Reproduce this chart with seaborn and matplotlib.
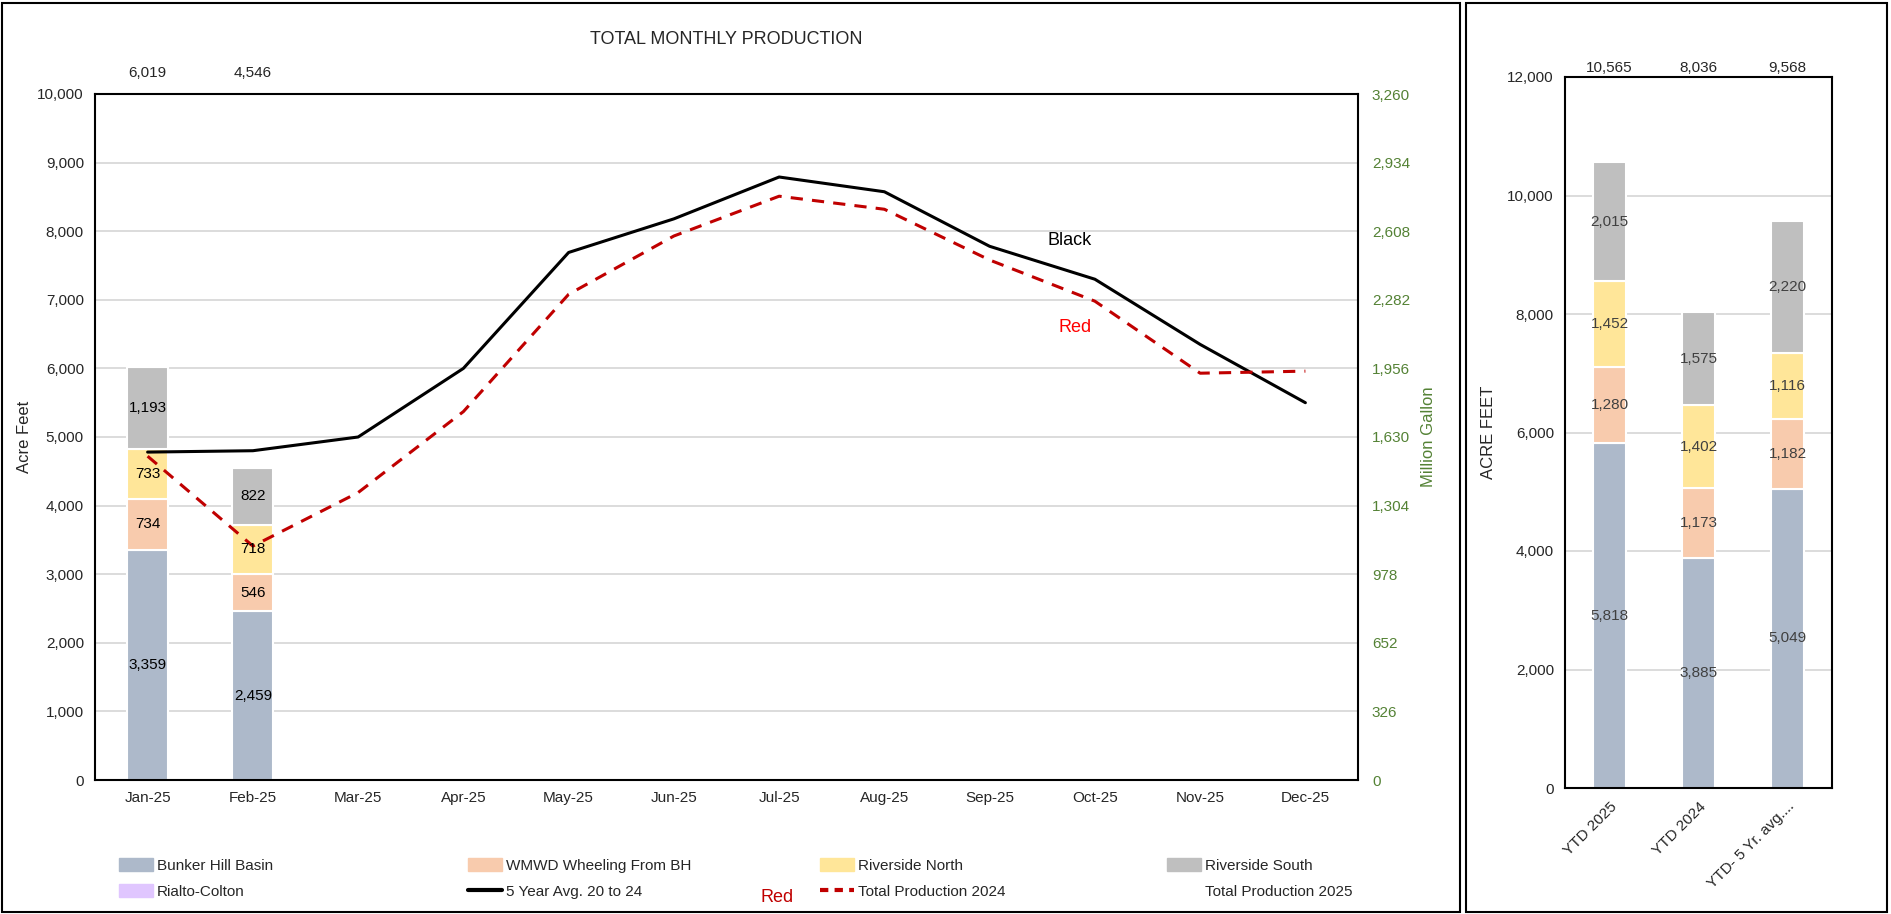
import numpy as np
import seaborn as sns
import matplotlib.pyplot as plt
from matplotlib.lines import Line2D
from matplotlib.patches import Patch, Rectangle

months = ["Jan-25", "Feb-25", "Mar-25", "Apr-25", "May-25", "Jun-25",
          "Jul-25", "Aug-25", "Sep-25", "Oct-25", "Nov-25", "Dec-25"]

# monthly 2025 production (acre feet), only Jan and Feb reported so far
bar_months = ["Jan-25", "Feb-25"]
bunker_hill = [3359, 2459]
wmwd = [734, 546]
riverside_north = [733, 718]
riverside_south = [1193, 822]
rialto_colton = [0, 0]
total_2025 = [6019, 4546]

avg_5yr = [4780, 4800, 5000, 6000, 7690, 8180, 8790, 8575, 7780, 7300, 6350, 5500]
total_2024 = [4720, 3410, 4190, 5370, 7080, 7930, 8510, 8320, 7580, 6980, 5930, 5960]

# year to date panel
ytd_cats = ["YTD 2025", "YTD 2024", "YTD- 5 Yr. avg...."]
ytd_bunker = [5818, 3885, 5049]
ytd_wmwd = [1280, 1173, 1182]
ytd_rn = [1452, 1402, 1116]
ytd_rs = [2015, 1575, 2220]
ytd_total = [10565, 8036, 9568]

series_names = ["Bunker Hill Basin", "WMWD Wheeling From BH", "Riverside North",
                "Riverside South", "Rialto-Colton"]
colors = ["#ADB9CA", "#F8CBAD", "#FFE699", "#BFBFBF", "#E0C6FF"]

sns.set_theme(style="white")
plt.rcParams['font.family'] = ['Liberation Sans', 'DejaVu Sans']

fig = plt.figure(figsize=(18.91, 9.14), dpi=100)

# panel frames
fig.patches.append(Rectangle((2 / 1891, 2 / 914), 1458 / 1891, 909 / 914, transform=fig.transFigure,
                             fill=False, edgecolor="black", linewidth=1.5))
fig.patches.append(Rectangle((1466 / 1891, 2 / 914), 421 / 1891, 909 / 914,
                             transform=fig.transFigure, fill=False, edgecolor="black", linewidth=1.5))

# ---------------- left: monthly chart ----------------
ax = fig.add_axes([95 / 1891, 134 / 914, 1263 / 1891, 686 / 914])
stack = [bunker_hill, wmwd, riverside_north, riverside_south, rialto_colton]
bottom = np.zeros(len(bar_months))
for vals, col in zip(stack, colors):
    sns.barplot(x=bar_months, y=vals, order=months, color=col, bottom=bottom,
                width=0.39, edgecolor="white", linewidth=1.5, ax=ax, saturation=1)
    for i, v in enumerate(vals):
        if v > 0:
            ax.text(i, bottom[i] + v / 2, f"{v:,}", ha="center", va="center", fontsize=11, color="black")
    bottom = bottom + np.array(vals)

x = np.arange(len(months))
sns.lineplot(x=x, y=avg_5yr, color="black", linewidth=2.2, ax=ax)
sns.lineplot(x=x, y=total_2024, color="#C00000", linewidth=2.2, linestyle=(0, (4, 3)), ax=ax)

for i, t in enumerate(total_2025):
    ax.text(i, 10200, f"{t:,}", ha="center", va="bottom", fontsize=11, clip_on=False)

ax.set_xlim(-0.5, 11.5)
ax.set_ylim(0, 10000)
ax.set_yticks(range(0, 10001, 1000))
ax.set_yticklabels([f"{v:,}" for v in range(0, 10001, 1000)], fontsize=11)
ax.set_xticks(x)
ax.set_xticklabels(months, fontsize=11)
ax.yaxis.grid(True, color="#D9D9D9", linewidth=1.3)
ax.set_axisbelow(True)
ax.set_xlabel("")
ax.set_ylabel("Acre Feet", fontsize=12, labelpad=4)
ax.tick_params(axis="both", length=0, pad=8)
for s in ax.spines.values():
    s.set_color("black")
    s.set_linewidth(1.5)
ax.text(8.55, 7800, "Black", fontsize=13, color="black")
ax.text(8.65, 6530, "Red", fontsize=13, color="#FF0000")
ax.set_title("TOTAL MONTHLY PRODUCTION", fontsize=13, pad=36)

ax2 = ax.twinx()
ax2.set_ylim(0, 3260)
ax2.set_yticks(np.arange(0, 3261, 326))
ax2.set_yticklabels([f"{v:,}" for v in range(0, 3261, 326)], fontsize=11, color="#548235")
ax2.tick_params(axis="y", length=0, pad=10)
ax2.set_ylabel("Million Gallon", fontsize=12, color="#548235", labelpad=8)
ax2.grid(False)
for s in ax2.spines.values():
    s.set_visible(False)

# legend, one small legend per column
legend_cols = [
    ([Patch(color=colors[0]), Patch(color=colors[4])], [series_names[0], series_names[4]]),
    ([Patch(color=colors[1]), Line2D([], [], color="black", linewidth=3)],
     [series_names[1], "5 Year Avg. 20 to 24"]),
    ([Patch(color=colors[2]), Line2D([], [], color="#C00000", linewidth=3, linestyle=(0, (2, 1.5)))],
     [series_names[2], "Total Production 2024"]),
    ([Patch(color=colors[3]), Line2D([], [], color="none")], [series_names[3], "Total Production 2025"]),
]
col_x = [116, 465, 817, 1164]
for (h, l), cx in zip(legend_cols, col_x):
    fig.legend(h, l, loc="upper left", frameon=False, bbox_to_anchor=(cx / 1891, 1 - 855 / 914),
               fontsize=11, handlelength=2.2, handleheight=0.9, handletextpad=0.3,
               labelspacing=0.75, borderaxespad=0, borderpad=0.2)
fig.text(760 / 1891, 12 / 914, "Red", color="#C00000", fontsize=13)

# ---------------- right: YTD chart ----------------
axr = fig.add_axes([1565 / 1891, 126 / 914, 267 / 1891, 711 / 914])
ytd_stack = [ytd_bunker, ytd_wmwd, ytd_rn, ytd_rs]
bottom = np.zeros(len(ytd_cats))
for vals, col in zip(ytd_stack, colors):
    sns.barplot(x=ytd_cats, y=vals, color=col, bottom=bottom, width=0.37,
                edgecolor="white", linewidth=1.5, ax=axr, saturation=1)
    for i, v in enumerate(vals):
        axr.text(i, bottom[i] + v / 2, f"{v:,}", ha="center", va="center", fontsize=11, color="#404040")
    bottom = bottom + np.array(vals)
for i, t in enumerate(ytd_total):
    axr.text(i, 12030, f"{t:,}", ha="center", va="bottom", fontsize=11, clip_on=False)

axr.set_xlim(-0.5, 2.5)
axr.set_ylim(0, 12000)
axr.set_yticks(range(0, 12001, 2000))
axr.set_yticklabels([f"{v:,}" for v in range(0, 12001, 2000)], fontsize=11)
axr.set_xticks(range(3))
axr.set_xticklabels(ytd_cats, rotation=45, ha="right", rotation_mode="anchor", fontsize=11)
axr.yaxis.grid(True, color="#D9D9D9", linewidth=1.3)
axr.set_axisbelow(True)
axr.set_ylabel("ACRE FEET", fontsize=12, labelpad=8)
axr.set_xlabel("")
axr.tick_params(axis="both", length=0, pad=8)
for s in axr.spines.values():
    s.set_color("black")
    s.set_linewidth(1.5)

fig.savefig("out.png", dpi=100)
